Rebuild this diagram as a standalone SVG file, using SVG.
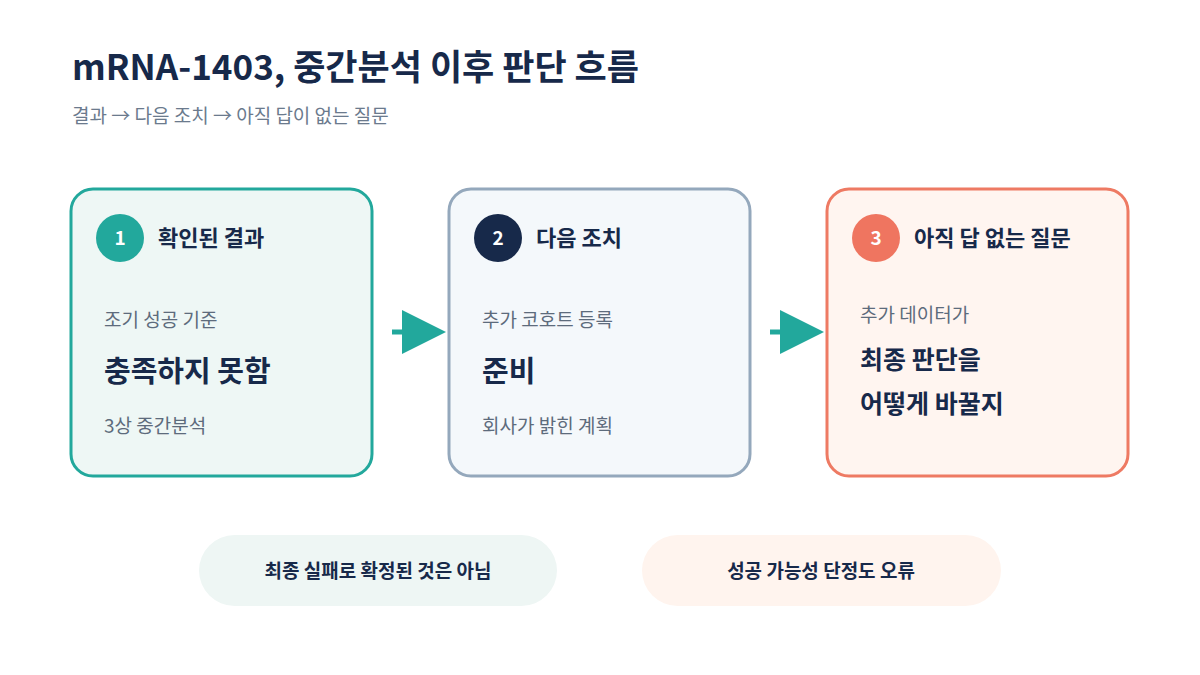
<svg xmlns="http://www.w3.org/2000/svg" width="1200" height="675" viewBox="0 0 1200 675">
<style>
text{font-family:"Noto Sans CJK KR","Noto Sans",sans-serif}
.t{font-size:35px;font-weight:700;fill:#17294a}
.sub{font-size:19px;fill:#6b7a8d}
.h{font-size:22px;font-weight:700;fill:#17294a}
.n{font-size:19px;font-weight:700;fill:#fff}
.s{font-size:19px;fill:#5d6b7c}
.b{font-size:29px;font-weight:700;fill:#17294a}
.b3{font-size:25px;font-weight:700;fill:#17294a}
.p{font-size:19px;font-weight:700;fill:#17294a}
</style>
<rect width="1200" height="675" fill="#fff"/>
<text class="t" x="72" y="80">mRNA-1403, 중간분석 이후 판단 흐름</text>
<text class="sub" x="72" y="123">결과 → 다음 조치 → 아직 답이 없는 질문</text>
<g id="node1">
<rect x="71" y="189" width="301" height="287" rx="22" fill="#eef7f5" stroke="#22a89c" stroke-width="3"/>
<circle cx="120" cy="238" r="24" fill="#22a89c"/><text class="n" x="120" y="245" text-anchor="middle">1</text>
<text class="h" x="158" y="246">확인된 결과</text>
<text class="s" x="104" y="327">조기 성공 기준</text>
<text class="b" x="104" y="382">충족하지 못함</text>
<text class="s" x="104" y="433">3상 중간분석</text>
</g>
<g id="node2">
<rect x="449" y="189" width="301" height="287" rx="22" fill="#f4f8fb" stroke="#94a8bc" stroke-width="3"/>
<circle cx="498" cy="238" r="24" fill="#17294a"/><text class="n" x="498" y="245" text-anchor="middle">2</text>
<text class="h" x="536" y="246">다음 조치</text>
<text class="s" x="482" y="327">추가 코호트 등록</text>
<text class="b" x="482" y="382">준비</text>
<text class="s" x="482" y="433">회사가 밝힌 계획</text>
</g>
<g id="node3">
<rect x="827" y="189" width="301" height="287" rx="22" fill="#fff5f0" stroke="#ee7a63" stroke-width="3"/>
<circle cx="876" cy="238" r="24" fill="#ef7560"/><text class="n" x="876" y="245" text-anchor="middle">3</text>
<text class="h" x="914" y="246">아직 답 없는 질문</text>
<text class="s" x="860" y="322">추가 데이터가</text>
<text class="b3" x="860" y="369">최종 판단을</text>
<text class="b3" x="860" y="413">어떻게 바꿀지</text>
</g>
<g id="connectors" fill="#22a89c" stroke="#22a89c">
<line x1="392" y1="332" x2="410" y2="332" stroke-width="5"/>
<polygon points="402,310 446,332 402,354" stroke="none"/>
<line x1="770" y1="332" x2="788" y2="332" stroke-width="5"/>
<polygon points="780,310 824,332 780,354" stroke="none"/>
</g>
<g id="pill1">
<rect x="199" y="535" width="358" height="71" rx="35.5" fill="#eef6f4"/>
<text class="p" x="378" y="578" text-anchor="middle">최종 실패로 확정된 것은 아님</text>
</g>
<g id="pill2">
<rect x="642" y="535" width="359" height="71" rx="35.5" fill="#fff4ee"/>
<text class="p" x="821" y="578" text-anchor="middle">성공 가능성 단정도 오류</text>
</g>
</svg>
